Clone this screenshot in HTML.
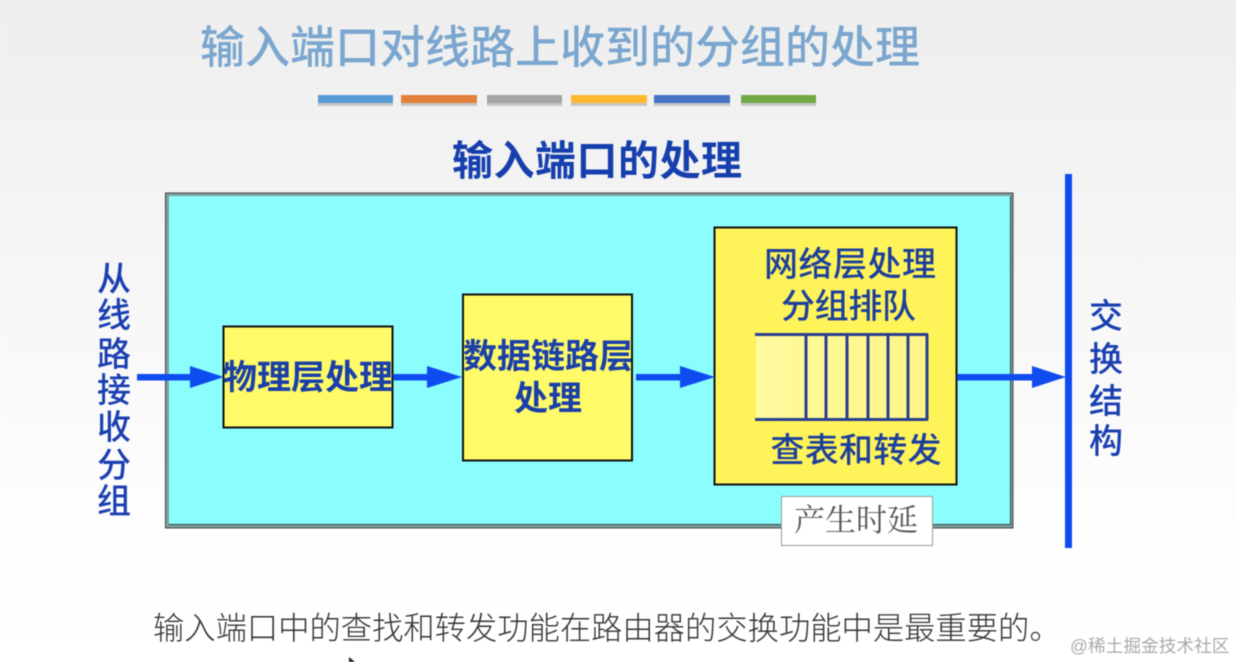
<!DOCTYPE html>
<html lang="zh"><head><meta charset="utf-8"><style>
html,body{margin:0;padding:0;width:1236px;height:662px;overflow:hidden;background:#fff}
svg{display:block;filter:blur(.55px)}
text{font-family:"Liberation Sans","Noto Sans CJK SC",sans-serif}
.b{fill:#1a3fa8;font-weight:700;font-size:34px;text-anchor:middle}
.n{fill:#1c3f9c;font-weight:500;font-size:34px}
</style></head><body>
<svg width="1236" height="662" viewBox="0 0 1236 662" xmlns="http://www.w3.org/2000/svg">
<defs>
<linearGradient id="bg" x1="0" y1="0" x2="0" y2="1"><stop offset="0" stop-color="#eeeeee"/><stop offset=".35" stop-color="#f5f5f5"/><stop offset=".8" stop-color="#fefefe"/><stop offset="1" stop-color="#fff"/></linearGradient>
<linearGradient id="q" x1="0" y1="0" x2="1" y2="0"><stop offset="0" stop-color="#fffa9e"/><stop offset="1" stop-color="#fff486"/></linearGradient>
</defs>
<rect width="1236" height="662" fill="url(#bg)"/>
<text x="200" y="63" font-size="45" fill="#7ba6cf" font-weight="500">输入端口对线路上收到的分组的处理</text>
<g>
<rect x="318" y="98" width="75" height="8" fill="#aaa" opacity=".6"/><rect x="401" y="98" width="76" height="8" fill="#aaa" opacity=".6"/><rect x="487" y="98" width="75" height="8" fill="#aaa" opacity=".6"/><rect x="571" y="98" width="76" height="8" fill="#aaa" opacity=".6"/><rect x="654" y="98" width="76" height="8" fill="#aaa" opacity=".6"/><rect x="741" y="98" width="75" height="8" fill="#aaa" opacity=".6"/>
<rect x="318" y="95" width="75" height="8" fill="#5b9bd5"/><rect x="401" y="95" width="76" height="8" fill="#e2803c"/><rect x="487" y="95" width="75" height="8" fill="#a5a5a5"/><rect x="571" y="95" width="76" height="8" fill="#fdb92e"/><rect x="654" y="95" width="76" height="8" fill="#4472c4"/><rect x="741" y="95" width="75" height="8" fill="#70a844"/>
</g>
<text x="452" y="175" font-size="41" fill="#163fae" font-weight="700" textLength="290">输入端口的处理</text>
<rect x="165.500" y="193" width="847.500" height="335" fill="#7f9f9d" stroke="#444"/>
<rect x="169" y="196" width="841" height="329" fill="#8cfdfd"/>
<path d="M169 524.500H1010.500V196" fill="none" stroke="#2b4a4a" stroke-width="1"/>
<rect x="223.500" y="326.500" width="169" height="101" fill="#fffb68" stroke="#111" stroke-width="2"/>
<rect x="463" y="294.500" width="169" height="166" fill="#fffb68" stroke="#111" stroke-width="2"/>
<rect x="714.500" y="227.500" width="242" height="257" fill="#fff35a" stroke="#111" stroke-width="2"/>
<rect x="756" y="335" width="171" height="85" fill="url(#q)"/>
<g stroke="#2a3f8f" stroke-width="3" fill="none">
<path d="M755 334.500H928M755 419.500H928M927 334V420M806 334V420M826 334V420M847 334V420M868 334V420M888 334V420M908 334V420"/>
</g>
<text x="308" y="389" class="b" textLength="170">物理层处理</text>
<text x="548" y="368" class="b" textLength="170">数据链路层</text>
<text x="548" y="410" class="b">处理</text>
<text x="850" y="276" class="n" text-anchor="middle" textLength="172">网络层处理</text>
<text x="848.500" y="318" class="n" text-anchor="middle" textLength="135">分组排队</text>
<text x="856" y="462" class="n" text-anchor="middle" textLength="171">查表和转发</text>
<rect x="781.500" y="496.500" width="151" height="49" fill="#fff" stroke="#999"/>
<text x="856" y="531" font-size="31" fill="#555" text-anchor="middle" style="font-family:'Noto Serif CJK SC',serif">产生时延</text>
<g fill="#0f4cf0">
<rect x="1065" y="174" width="7" height="374"/>
<rect x="137" y="374" width="56" height="6.500"/><path d="M190 366L224 377L190 388Z"/>
<rect x="393" y="374" width="36" height="6.500"/><path d="M427 366L462 377L427 388Z"/>
<rect x="636" y="374" width="46" height="6.500"/><path d="M680 366L715 377L680 388Z"/>
<rect x="957" y="374" width="77" height="6.500"/><path d="M1032 366L1066 377L1032 388Z"/>
</g>
<g fill="#1a3fb0" font-size="34" font-weight="500" text-anchor="middle">
<text x="114" y="291">从</text><text x="114" y="327">线</text><text x="114" y="366">路</text><text x="114" y="402">接</text><text x="114" y="439">收</text><text x="114" y="477">分</text><text x="114" y="513">组</text>
<text x="1106" y="328">交</text><text x="1106" y="371">换</text><text x="1106" y="413">结</text><text x="1106" y="453">构</text>
</g>
<text x="153" y="639" font-size="31.300" fill="#333" font-weight="300">输入端口中的查找和转发功能在路由器的交换功能中是最重要的。</text>
<path d="M349 662L349 657L355 662Z" fill="#222"/>
<text x="1070" y="652" font-size="17.700" fill="#aaa">@稀土掘金技术社区</text>
</svg>
</body></html>
